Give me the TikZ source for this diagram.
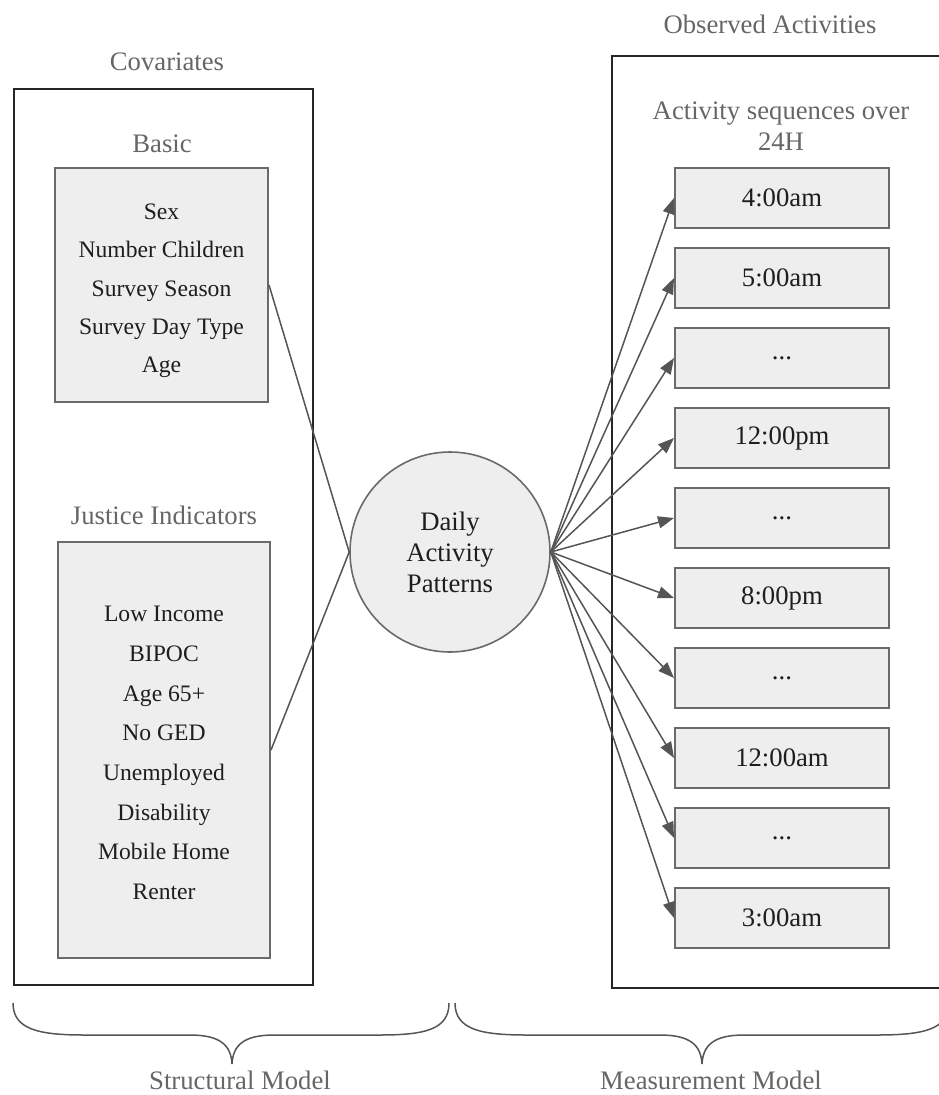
\documentclass[tikz,border=0pt]{standalone}
\usepackage{fontspec}
\setmainfont{Liberation Serif}
\usetikzlibrary{arrows.meta}
\definecolor{boxfill}{HTML}{EEEEEE}
\definecolor{boxline}{HTML}{6A6A6A}
\definecolor{headgray}{HTML}{666666}
\definecolor{linegray}{HTML}{555555}
\definecolor{txt}{HTML}{1E1E1E}
\begin{document}
\begin{tikzpicture}[x=1pt,y=-1pt,
  heading/.style={text=headgray,font=\fontsize{26.7}{31}\selectfont,align=center,inner sep=0pt},
  frame/.style={draw=black!85,line width=2pt,fill=none,inner sep=0pt},
  itembox/.style={draw=boxline,fill=boxfill,line width=2pt,text=txt,align=center,inner sep=0pt},
  listbox/.style={itembox},
  listtext/.style={text=txt,align=center,inner sep=0pt},
  slot/.style={itembox,minimum width=214pt,minimum height=60pt,font=\fontsize{26.7}{31}\selectfont},
  latent/.style={circle,draw=boxline,fill=boxfill,line width=1.6pt,minimum size=200pt,inner sep=0pt,
    align=center,text=txt,font=\fontsize{26.7}{31}\selectfont},
  link/.style={draw=linegray,line width=1.5pt},
  arr/.style={link,-{Triangle[length=16pt,width=12pt]}},
  brace/.style={draw=linegray,line width=1.5pt}
]
\useasboundingbox (0,0) rectangle (938,1095);

% outer frames
\node[frame,minimum width=299pt,minimum height=896pt] (covframe) at (163.5,537) {};
\node[frame,minimum width=330pt,minimum height=932pt] (obsframe) at (777,522) {};

% headings
\node[heading] (covtitle) at (167,62) {Covariates};
\node[heading] (basictitle) at (162,144) {Basic};
\node[heading] (justtitle) at (164,515) {Justice Indicators};
\node[heading] (obstitle) at (770,24) {Observed Activities};
\node[heading] (seqtitle) at (781,126) {Activity sequences over\\24H};

% covariate lists
\node[listbox,minimum width=213pt,minimum height=234pt] (basic) at (161.5,285) {};
\node[listtext,font=\fontsize{23.6}{38.3}\selectfont] (basictext) at (161.5,291)
  {Sex\\Number Children\\Survey Season\\Survey Day Type\\Age};
\node[listbox,minimum width=212pt,minimum height=416pt] (justice) at (164,750) {};
\node[listtext,font=\fontsize{23.6}{39.7}\selectfont] (justtext) at (164,753)
  {Low Income\\BIPOC\\Age 65+\\No GED\\Unemployed\\Disability\\Mobile Home\\Renter};

% latent variable
\node[latent] (dap) at (450,552) {Daily\\Activity\\Patterns};

% time slots
\node[slot] (s1) at (782,198) {4:00am};
\node[slot] (s2) at (782,278) {5:00am};
\node[slot] (s3) at (782,358) {...};
\node[slot] (s4) at (782,438) {12:00pm};
\node[slot] (s5) at (782,518) {...};
\node[slot] (s6) at (782,598) {8:00pm};
\node[slot] (s7) at (782,678) {...};
\node[slot] (s8) at (782,758) {12:00am};
\node[slot] (s9) at (782,838) {...};
\node[slot] (s10) at (782,918) {3:00am};

% structural links
\draw[link] (basic.east) -- (dap.west);
\draw[link] (justice.east) -- (dap.west);

% measurement arrows
\foreach \s in {s1,s2,s3,s4,s5,s6,s7,s8,s9,s10}
  \draw[arr] (dap.east) -- (\s.west);

% braces
\draw[brace] (13,1003) .. controls (13,1030) and (40,1035) .. (85,1035)
  -- (190,1035) .. controls (220,1035) and (231,1045) .. (232,1064)
  .. controls (233,1045) and (244,1035) .. (274,1035)
  -- (379,1035) .. controls (424,1035) and (449,1030) .. (449,1003);
\draw[brace] (455,1003) .. controls (455,1030) and (482,1035) .. (527,1035)
  -- (660,1035) .. controls (690,1035) and (701,1045) .. (702,1064)
  .. controls (703,1045) and (714,1035) .. (744,1035)
  -- (877,1035) .. controls (922,1035) and (949,1030) .. (949,1003);

\node[heading] (structlabel) at (240,1080) {Structural Model};
\node[heading] (measlabel) at (711,1080) {Measurement Model};
\end{tikzpicture}
\end{document}
